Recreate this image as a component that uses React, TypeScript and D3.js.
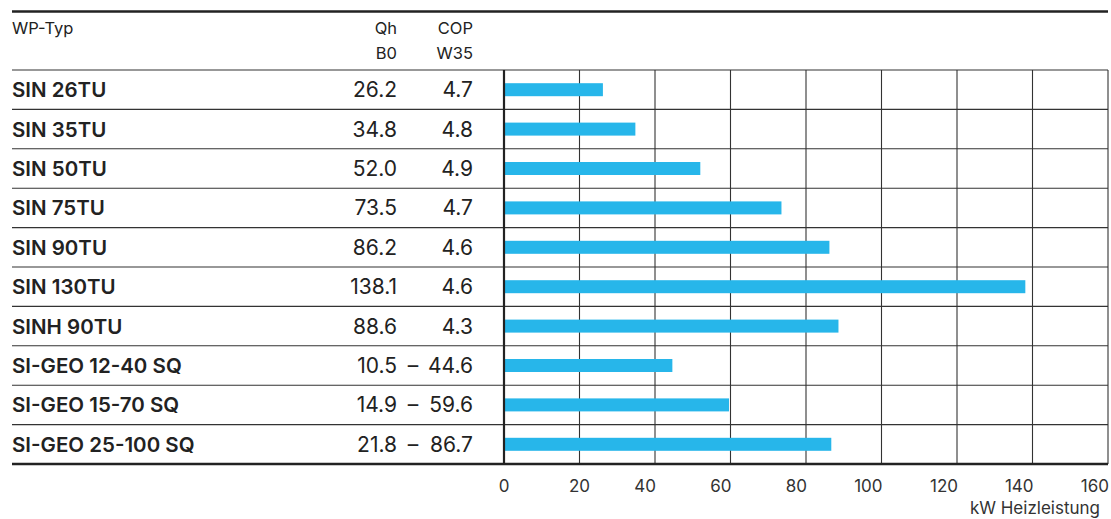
import React from "react";
import * as d3 from "d3";

const types = [
  "SIN 26TU", "SIN 35TU", "SIN 50TU", "SIN 75TU", "SIN 90TU",
  "SIN 130TU", "SINH 90TU", "SI-GEO 12-40 SQ", "SI-GEO 15-70 SQ", "SI-GEO 25-100 SQ",
];
const qhMin = [null, null, null, null, null, null, null, 10.5, 14.9, 21.8];
const qhValues = [26.2, 34.8, 52.0, 73.5, 86.2, 138.1, 88.6, 44.6, 59.6, 86.7];
const copValues = ["4.7", "4.8", "4.9", "4.7", "4.6", "4.6", "4.3", null, null, null];
const xTicks = [0, 20, 40, 60, 80, 100, 120, 140, 160];

const W = 1111;
const H = 519;
const FONT = "Inter, 'Noto Sans', sans-serif";

export default function App() {
  const x = d3.scaleLinear().domain([0, 160]).range([504, 1108]);
  const y = d3.scaleBand<string>().domain(types).range([70, 464]).padding(0);
  const barH = 13;
  const left = 12;
  const qhX = 397;
  const copX = 473;
  const valSize = 21;

  return (
    <svg width={W} height={H} style={{ position: "absolute", left: 0, top: 0 }} fontFamily={FONT}>
      <rect width={W} height={H} fill="#fff" />
      {/* header */}
      <text x={left} y={34} fontSize={16.5} fill="#222">WP-Typ</text>
      <text x={qhX} y={34} fontSize={16.5} fill="#222" textAnchor="end">Qh</text>
      <text x={qhX} y={59} fontSize={16.5} fill="#222" textAnchor="end">B0</text>
      <text x={copX} y={34} fontSize={16.5} fill="#222" textAnchor="end">COP</text>
      <text x={copX} y={59} fontSize={16.5} fill="#222" textAnchor="end">W35</text>

      {/* vertical grid */}
      {xTicks.slice(1).map((t) => (
        <line key={t} x1={x(t)} x2={x(t)} y1={70} y2={464} stroke="#333" strokeWidth={1.1} />
      ))}

      {/* row lines */}
      {types.map((t) => (
        <line key={t} x1={left} x2={1108} y1={y(t)!} y2={y(t)!} stroke="#333" strokeWidth={1.1} />
      ))}

      {/* bars */}
      {types.map((t, i) => (
        <rect
          key={t}
          x={x(0) + 1}
          y={y(t)! + y.bandwidth() / 2 - barH / 2}
          width={x(qhValues[i]) - x(0) - 1}
          height={barH}
          fill="#27b6ea"
        />
      ))}

      {/* zero axis */}
      <line x1={x(0)} x2={x(0)} y1={70} y2={464} stroke="#222" strokeWidth={2.2} />

      {/* row labels */}
      {types.map((t, i) => {
        const cy = y(t)! + y.bandwidth() / 2 + 7.5;
        return (
          <g key={t}>
            <text x={left} y={cy} fontSize={20.5} fontWeight={600} fill="#222">{t}</text>
            {qhMin[i] == null ? (
              <>
                <text x={qhX} y={cy} fontSize={valSize} fill="#222" textAnchor="end">{qhValues[i].toFixed(1)}</text>
                <text x={copX} y={cy} fontSize={valSize} fill="#222" textAnchor="end">{copValues[i]}</text>
              </>
            ) : (
              <>
                <text x={qhX} y={cy} fontSize={valSize} fill="#222" textAnchor="end">{(qhMin[i] as number).toFixed(1)}</text>
                <text x={413} y={cy} fontSize={valSize} fill="#222" textAnchor="middle">–</text>
                <text x={copX} y={cy} fontSize={valSize} fill="#222" textAnchor="end">{qhValues[i].toFixed(1)}</text>
              </>
            )}
          </g>
        );
      })}

      {/* top & bottom rules */}
      <line x1={left} x2={1108} y1={11.5} y2={11.5} stroke="#222" strokeWidth={2.6} />
      <line x1={left} x2={1108} y1={464} y2={464} stroke="#222" strokeWidth={2.6} />

      {/* x tick labels */}
      {xTicks.map((t) => (
        <text
          key={t}
          x={t <= 20 ? x(t) : x(t) + 1}
          y={492}
          fontSize={17}
          fill="#333"
          textAnchor={t <= 20 ? "middle" : "end"}
        >
          {t}
        </text>
      ))}
      <text x={1100} y={514} fontSize={17} fill="#333" textAnchor="end">kW Heizleistung</text>
    </svg>
  );
}
